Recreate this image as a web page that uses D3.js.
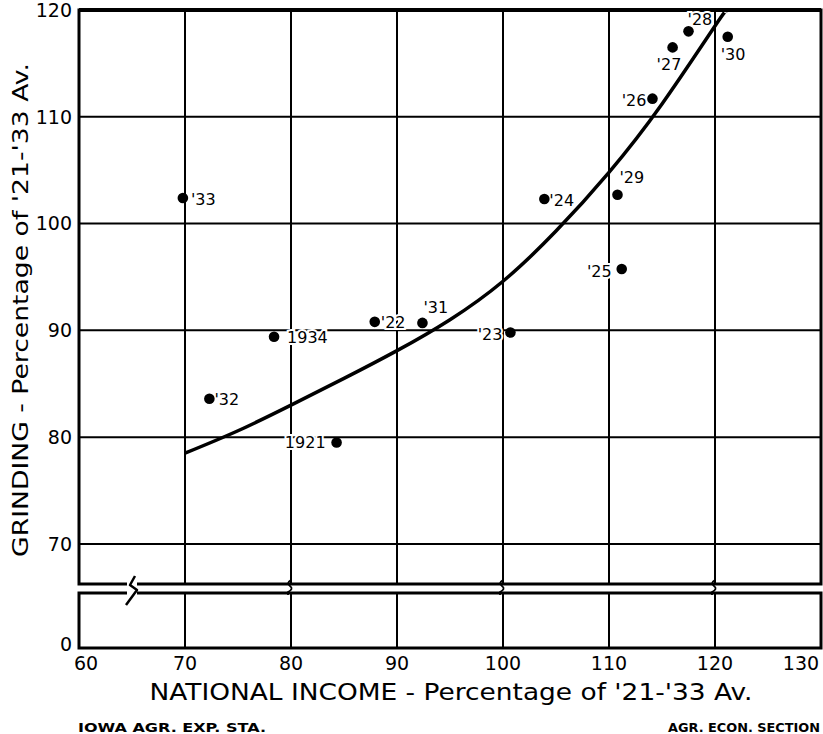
<!DOCTYPE html>
<html>
<head>
<meta charset="utf-8">
<script src="https://cdn.jsdelivr.net/npm/d3@7"></script>
<style>
  html, body { margin: 0; padding: 0; background: #fff; }
  svg { display: block; }
</style>
</head>
<body>
<svg id="chart" width="823" height="734"></svg>
<script>
// ---------------- DATA ----------------
const yearLabels = ["'33", "1934", "'22", "'31", "'23", "'24", "'29", "'25", "'26", "'27", "'28", "'30", "'32", "1921"];
const nationalIncome = [69.8, 78.4, 87.9, 92.4, 100.7, 103.9, 110.8, 111.2, 114.1, 116.0, 117.5, 121.2, 72.3, 84.3];
const grinding = [102.4, 89.4, 90.8, 90.7, 89.8, 102.3, 102.7, 95.75, 111.7, 116.5, 118.0, 117.5, 83.6, 79.5];

const curveIncome = [70, 75, 80, 85, 90, 95, 100, 105, 110, 115, 120, 121.0];
const curveGrinding = [78.5, 80.6, 83.0, 85.5, 88.1, 91.0, 94.6, 99.3, 104.8, 111.2, 118.5, 119.8];

const xTicks = [60, 70, 80, 90, 100, 110, 120, 130];
const xTickLabels = ["60", "70", "80", "90", "100", "110", "120", "130"];
const yTicks = [70, 80, 90, 100, 110, 120];
const yTickLabels = ["70", "80", "90", "100", "110", "120"];
const yLowTicks = [0];
const yLowTickLabels = ["0"];

const xTitle = "NATIONAL INCOME - Percentage of '21-'33 Av.";
const yTitle = "GRINDING - Percentage of '21-'33 Av.";
const footLeft = "IOWA  AGR.  EXP.  STA.";
const footRight = "AGR.  ECON.  SECTION";

// ---------------- LAYOUT ----------------
const labelPlace = {
  "'33": {dx: 8, dy: 7, a: "start"},
  "1934": {dx: 13, dy: 6, a: "start"},
  "'22": {dx: 6, dy: 6, a: "start"},
  "'31": {dx: 1, dy: -10, a: "start"},
  "'23": {dx: -8, dy: 7, a: "end"},
  "'24": {dx: 5, dy: 7, a: "start"},
  "'29": {dx: 2, dy: -12, a: "start"},
  "'25": {dx: -10, dy: 8, a: "end"},
  "'26": {dx: -6, dy: 7, a: "end"},
  "'27": {dx: -16, dy: 23, a: "start"},
  "'28": {dx: -1, dy: -6, a: "start"},
  "'30": {dx: -7, dy: 23, a: "start"},
  "'32": {dx: 5, dy: 6, a: "start"},
  "1921": {dx: -11, dy: 5, a: "end"}
};

const svg = d3.select("#chart");
const font = "'DejaVu Sans', sans-serif";

const x = d3.scaleLinear().domain([60, 130]).range([79, 821]);
const y = d3.scaleLinear().domain([66.25, 120]).range([584, 10]);
const yLow = d3.scaleLinear().domain([0, 5]).range([648, 593]);

const upperTop = y(120), upperBot = y(66.25);
const lowerTop = yLow(5), lowerBot = yLow(0);

// grid verticals (upper + lower panels)
const g = svg.append("g");
const innerX = xTicks.slice(1, -1);
g.selectAll("line.vu").data(innerX).join("line")
  .attr("x1", d => x(d)).attr("x2", d => x(d))
  .attr("y1", upperTop).attr("y2", upperBot)
  .attr("stroke", "#000").attr("stroke-width", 2);
g.selectAll("line.vl").data(innerX).join("line")
  .attr("x1", d => x(d)).attr("x2", d => x(d))
  .attr("y1", lowerTop).attr("y2", lowerBot)
  .attr("stroke", "#000").attr("stroke-width", 2);
// grid horizontals
g.selectAll("line.h").data(yTicks.slice(0, -1)).join("line")
  .attr("x1", x(60)).attr("x2", x(130))
  .attr("y1", d => y(d)).attr("y2", d => y(d))
  .attr("stroke", "#000").attr("stroke-width", 2);

// panel borders
svg.append("rect").attr("x", x(60)).attr("y", upperTop)
  .attr("width", x(130) - x(60)).attr("height", upperBot - upperTop)
  .attr("fill", "none").attr("stroke", "#000").attr("stroke-width", 3);
svg.append("line").attr("x1", x(60)).attr("x2", x(130)).attr("y1", upperTop).attr("y2", upperTop)
  .attr("stroke", "#000").attr("stroke-width", 4);
svg.append("rect").attr("x", x(60)).attr("y", lowerTop)
  .attr("width", x(130) - x(60)).attr("height", lowerBot - lowerTop)
  .attr("fill", "none").attr("stroke", "#000").attr("stroke-width", 3);

// break marks
const xb = x(65);
svg.append("rect").attr("x", xb - 5).attr("y", upperBot - 3).attr("width", 10).attr("height", lowerTop - upperBot + 6).attr("fill", "#fff");
svg.append("path")
  .attr("d", `M${xb + 3},${upperBot - 8} L${xb - 2},${upperBot + 1} L${xb + 5},${upperBot + 6} L${xb - 6},${lowerTop + 12}`)
  .attr("fill", "none").attr("stroke", "#000").attr("stroke-width", 2.5).attr("stroke-linejoin", "round");
[80, 100, 120].forEach(v => {
  const cx = x(v);
  svg.append("path")
    .attr("d", `M${cx},${upperBot - 4} q -5,3 -1,6 q 4,3 -2,6 l 0,${lowerTop - upperBot - 6}`)
    .attr("fill", "none").attr("stroke", "#000").attr("stroke-width", 1.8);
});

// y tick labels
svg.append("g").selectAll("text").data(yTicks).join("text")
  .attr("x", 72).attr("y", d => y(d)).attr("dy", "0.36em")
  .attr("text-anchor", "end")
  .attr("font-family", font).attr("font-size", 19)
  .text((d, i) => yTickLabels[i]);
svg.append("g").selectAll("text").data(yLowTicks).join("text")
  .attr("x", 72).attr("y", d => yLow(d) - 4).attr("dy", "0.36em")
  .attr("text-anchor", "end")
  .attr("font-family", font).attr("font-size", 19)
  .text((d, i) => yLowTickLabels[i]);

// x tick labels
svg.append("g").selectAll("text").data(xTicks).join("text")
  .attr("x", (d, i) => x(d) + (i === 0 ? 7 : (i === xTicks.length - 1 ? -20 : 0)))
  .attr("y", 670)
  .attr("text-anchor", "middle")
  .attr("font-family", font).attr("font-size", 19)
  .text((d, i) => xTickLabels[i]);

// fitted curve
const line = d3.line().x(d => x(d[0])).y(d => y(d[1])).curve(d3.curveNatural);
svg.append("path")
  .datum(curveIncome.map((v, i) => [v, curveGrinding[i]]))
  .attr("d", line)
  .attr("fill", "none").attr("stroke", "#000").attr("stroke-width", 3.5);

// points + labels
const pts = yearLabels.map((l, i) => ({label: l, x: nationalIncome[i], y: grinding[i]}));
svg.append("g").selectAll("text").data(pts).join("text")
  .attr("x", d => x(d.x) + labelPlace[d.label].dx)
  .attr("y", d => y(d.y) + labelPlace[d.label].dy)
  .attr("text-anchor", d => labelPlace[d.label].a)
  .attr("font-family", font).attr("font-size", 16)
  .attr("stroke", "#fff").attr("stroke-width", 4).attr("paint-order", "stroke")
  .attr("fill", "#000")
  .text(d => d.label);
svg.append("g").selectAll("circle").data(pts).join("circle")
  .attr("cx", d => x(d.x)).attr("cy", d => y(d.y)).attr("r", 5.3)
  .attr("fill", "#000");

// axis titles
svg.append("text")
  .attr("x", 451).attr("y", 700)
  .attr("text-anchor", "middle")
  .attr("font-family", font).attr("font-size", 23)
  .attr("textLength", 603).attr("lengthAdjust", "spacingAndGlyphs")
  .text(xTitle);
svg.append("text")
  .attr("transform", "translate(28,310) rotate(-90)")
  .attr("text-anchor", "middle")
  .attr("font-family", font).attr("font-size", 21)
  .attr("textLength", 494).attr("lengthAdjust", "spacingAndGlyphs")
  .text(yTitle);

// footers
svg.append("text")
  .attr("x", 78).attr("y", 732)
  .attr("font-family", font).attr("font-size", 12.5).attr("font-weight", "bold")
  .attr("textLength", 188).attr("lengthAdjust", "spacingAndGlyphs")
  .text(footLeft);
svg.append("text")
  .attr("x", 668).attr("y", 732)
  .attr("font-family", font).attr("font-size", 12.5).attr("font-weight", "bold")
  .attr("textLength", 152).attr("lengthAdjust", "spacingAndGlyphs")
  .text(footRight);
</script>
</body>
</html>
